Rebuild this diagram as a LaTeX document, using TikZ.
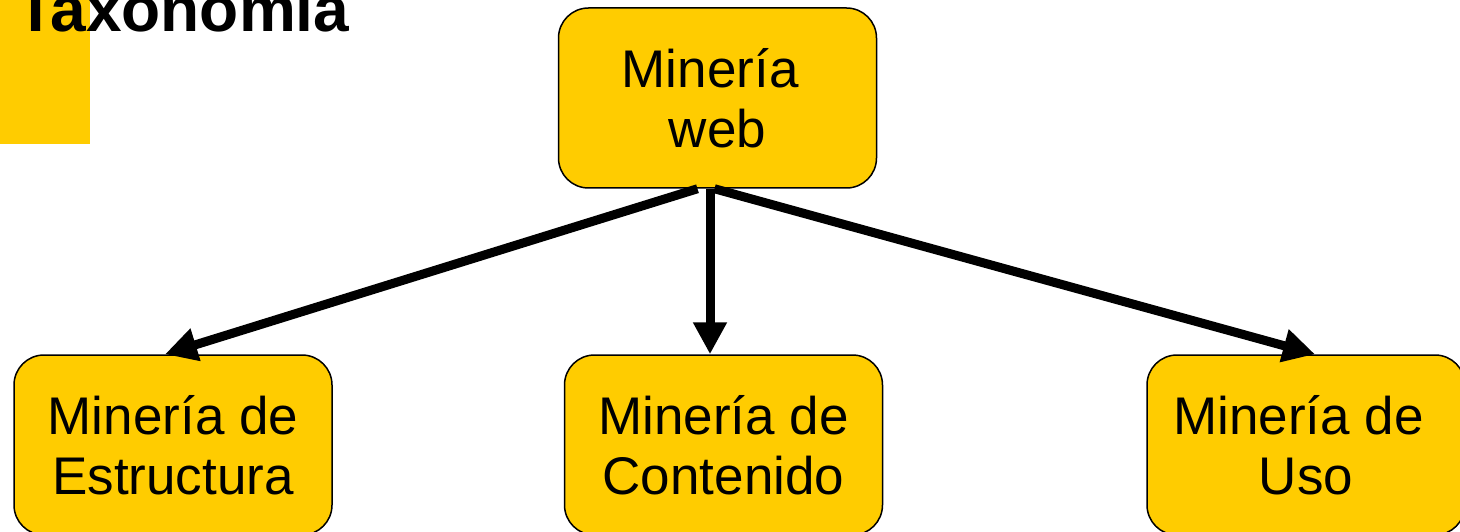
\documentclass[tikz,border=0pt]{standalone}
\usepackage{fontspec}
\setmainfont{Liberation Sans}
\usetikzlibrary{arrows.meta}
\definecolor{minyellow}{HTML}{FFCC00}
\begin{document}
\begin{tikzpicture}[x=1pt,y=-1pt,
    caja/.style={draw=black, line width=1.5pt, fill=minyellow, rounded corners=30pt,
      minimum width=318pt, minimum height=180pt, align=center, inner sep=0pt,
      font=\fontsize{53}{60}\selectfont},
    flecha/.style={line width=9pt, -{Triangle[length=32pt,width=32pt]}}]
            \useasboundingbox (0,0) rectangle (1460,532);
            \clip (0,0) rectangle (1460,532);
            \fill [minyellow] (0,0) rectangle (90,144);
            \node [anchor=base west, inner sep=0pt, font=\fontsize{64}{70}\selectfont\bfseries] (titulo) at (16,32) {Taxonomía};
            \node [caja] (web) at (717.5,98) {Minería\ \mbox{}\\web};
            \node [caja] (estructura) at (173,445) {Minería de\\Estructura};
            \node [caja] (contenido) at (723.5,445) {Minería de\\Contenido};
            \node [caja] (uso) at (1306,445) {Minería de\ \mbox{}\\Uso};
            \draw [flecha] ([xshift=-20pt]web.south) -- ([xshift=-8pt]estructura.north);
            \draw [flecha] ([xshift=-7.5pt]web.south) -- ([xshift=-13.5pt]contenido.north);
            \draw [flecha] ([xshift=-3pt]web.south) -- ([xshift=9pt]uso.north);
        \end{tikzpicture}
\end{document}
